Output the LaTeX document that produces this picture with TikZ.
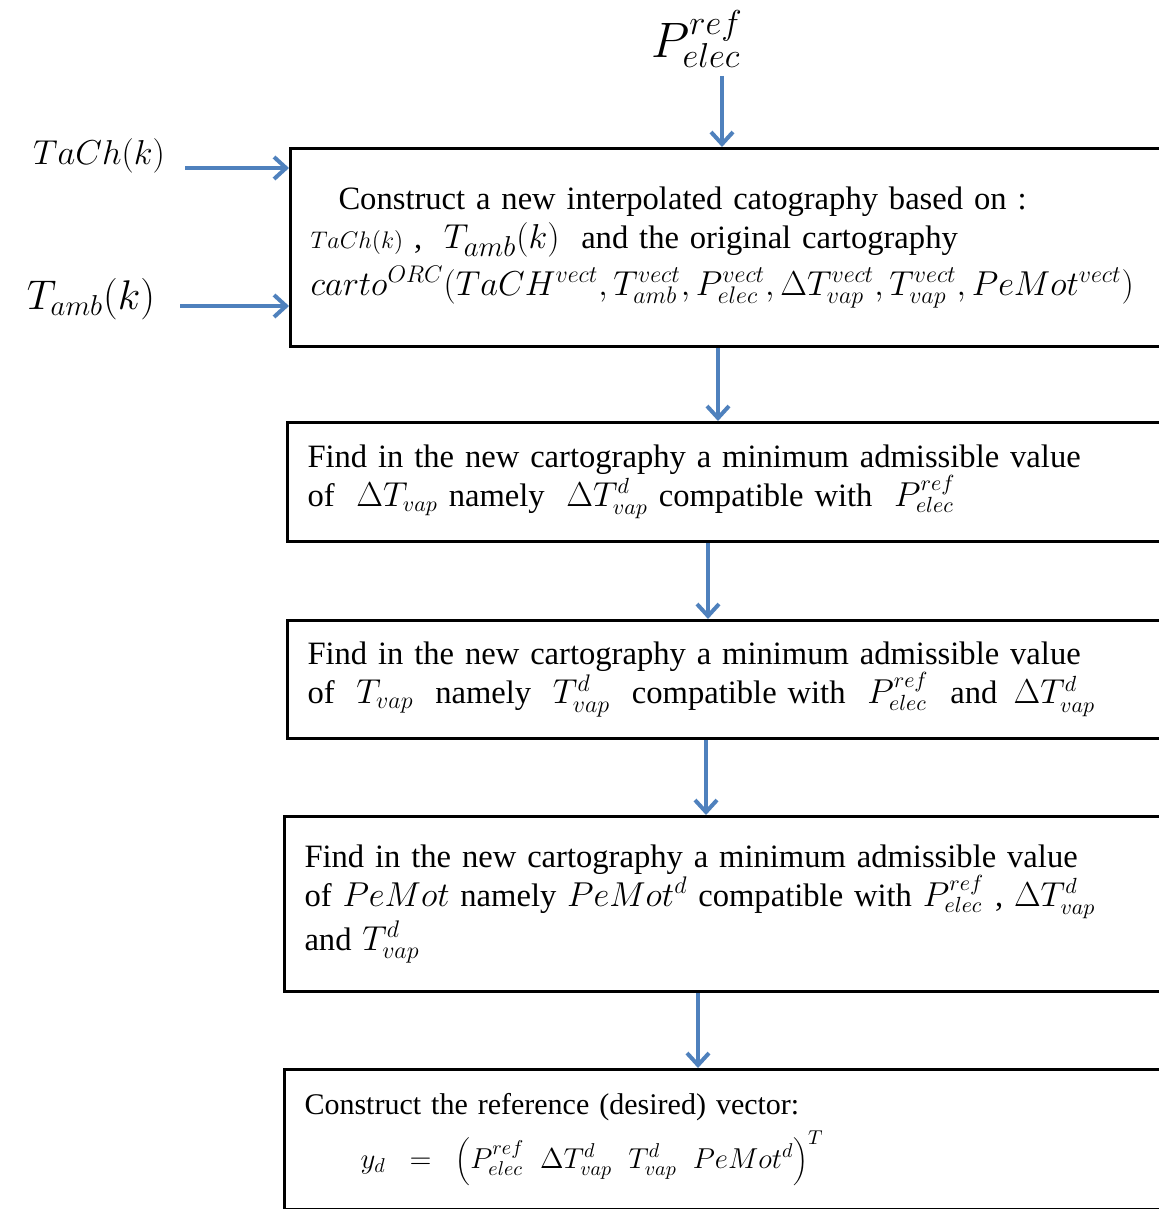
\documentclass[tikz,border=0pt]{standalone}
\usepackage{fontspec}
\setmainfont{Liberation Serif}
\usetikzlibrary{arrows.meta,calc}
\definecolor{arrowblue}{HTML}{4F81BD}
\begin{document}
\begin{tikzpicture}[x=0.5pt,y=-0.5pt,
  box/.style={draw=black,line width=1.5pt,anchor=north west,minimum width=445pt,
    text width=425pt,align=left,inner xsep=8pt,inner ysep=0pt,
    font=\fontsize{16.3}{19.5}\selectfont},
  arr/.style={draw=arrowblue,line width=2pt,
    -{Straight Barb[length=6pt,width=11pt,line width=2pt]}},
  lab/.style={inner sep=0pt}]
\useasboundingbox (0,0) rectangle (1159,1209);
\clip (0,0) rectangle (1159,1209);

% input labels
\node[lab] (pref) at (697,39) {\fontsize{26}{28}\selectfont $P^{ref}_{elec}$};
\node[lab] (tach) at (99,156) {\fontsize{16.5}{18}\selectfont $TaCh(k)$};
\node[lab] (tamb) at (91,299) {\fontsize{22}{24}\selectfont $T_{amb}(k)$};

% boxes
\node[box,minimum height=99pt] (b1) at (289,147) {%
\hspace*{14pt}Construct a new interpolated catography based on :\\
{\fontsize{13}{15}\selectfont$TaCh(k)$}\ ,\ \ {\fontsize{19}{20}\selectfont$T_{amb}(k)$}\ \ and the original cartography\\[4pt]
{\fontsize{17.5}{19.5}\selectfont$carto^{ORC}(TaCH^{vect},T^{vect}_{amb},P^{vect}_{elec},\Delta T^{vect}_{vap},T^{vect}_{vap},PeMot^{vect})$}};

\node[box,minimum height=59.5pt] (b2) at (286,421) {%
Find in the new cartography a minimum admissible value\\
of \ $\Delta T_{vap}$ namely \ $\Delta T^{d}_{vap}$ compatible with \ $P^{ref}_{elec}$};

\node[box,minimum height=59pt] (b3) at (286,619) {%
Find in the new cartography a minimum admissible value\\
of \ {\fontsize{18}{19}\selectfont$T_{vap}$} \ namely \ {\fontsize{18}{19}\selectfont$T^{d}_{vap}$} \ compatible with \ $P^{ref}_{elec}$ \ and \,$\Delta T^{d}_{vap}$};

\node[box,minimum height=87.5pt] (b4) at (283,815) {%
Find in the new cartography a minimum admissible value\\
of {\fontsize{17}{19}\selectfont$PeMot$} namely {\fontsize{17}{19}\selectfont$PeMot^{d}$} compatible with $P^{ref}_{elec}$ , $\Delta T^{d}_{vap}$\\
and {\fontsize{17}{19}\selectfont$T^{d}_{vap}$}};

\node[box,minimum height=70pt,font=\fontsize{15}{19.5}\selectfont] (b5) at (283,1068) {%
Construct the reference (desired) vector:\\[4pt]
\hspace*{28pt}{\fontsize{14.5}{16}\selectfont$y_d\;\;=\;\;\left(P^{ref}_{elec}\;\;\Delta T^{d}_{vap}\;\;T^{d}_{vap}\;\;PeMot^{d}\right)^{T}$}};

% arrow x positions and starts
\coordinate (s0) at (722,76);
\coordinate (x1) at (718,0);
\coordinate (x2) at (708,0);
\coordinate (x3) at (706,0);
\coordinate (x4) at (698,0);
\coordinate (s1) at (185,168);
\coordinate (s2) at (180,306);

% connectors
\draw[arr] (s0) -- (s0 |- b1.north);
\draw[arr] (s1) -- (s1 -| b1.west);
\draw[arr] (s2) -- (s2 -| b1.west);
\draw[arr] (b1.south -| x1) -- (b2.north -| x1);
\draw[arr] (b2.south -| x2) -- (b3.north -| x2);
\draw[arr] (b3.south -| x3) -- (b4.north -| x3);
\draw[arr] (b4.south -| x4) -- (b5.north -| x4);
\end{tikzpicture}
\end{document}
